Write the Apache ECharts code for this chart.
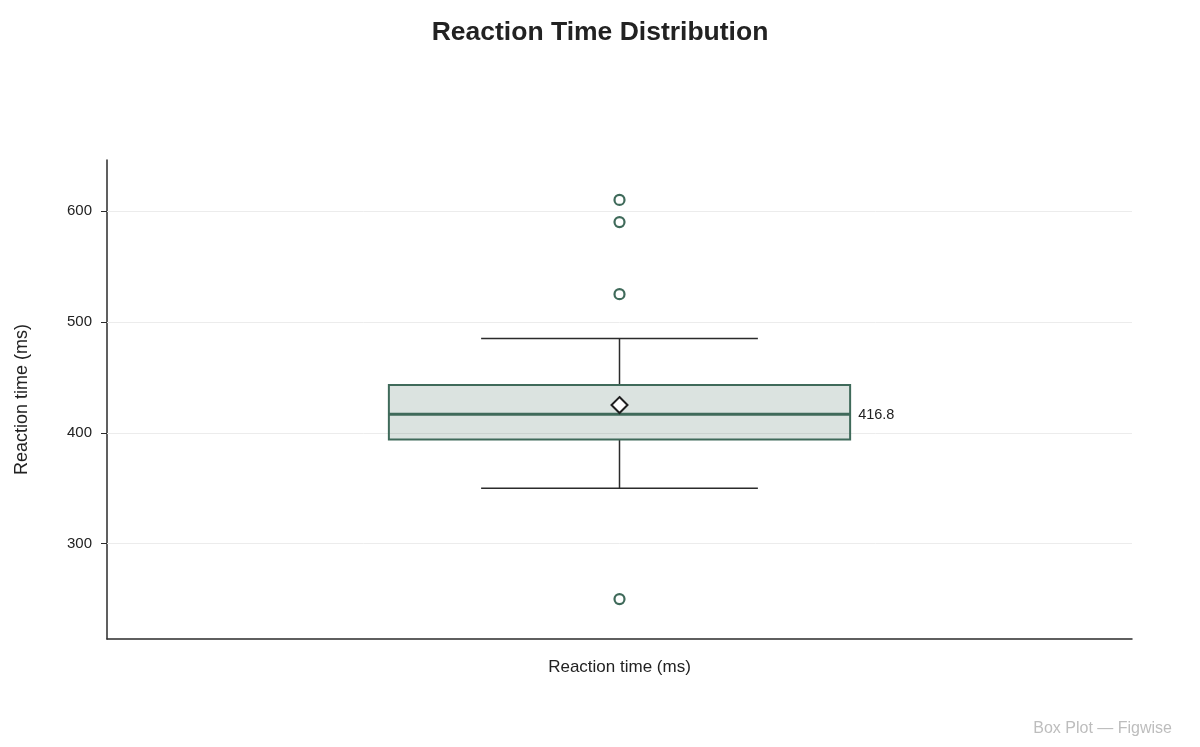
<!DOCTYPE html>
<html>
<head>
<meta charset="utf-8">
<title>Reaction Time Distribution</title>
<script src="https://cdn.jsdelivr.net/npm/echarts@6/dist/echarts.min.js"></script>
<style>
html, body { margin: 0; padding: 0; background: #fff; }
#chart { width: 1200px; height: 747px; }
</style>
</head>
<body>
<div id="chart"></div>
<script>
// data
var categories = ['Reaction time (ms)'];
// [low whisker, Q1, median, Q3, high whisker]
var boxStats = [350, 394, 416.8, 443, 485];
var meanValue = 425;
var outliers = [250, 525, 590, 610];
var yTicks = [300, 400, 500, 600];
var yMin = 214;
var yMax = 646;

var green = '#3f6a5a';
var ink = '#2b2b2b';
var font = 'Helvetica, Arial, "Liberation Sans", sans-serif';

function getID(ID) {
    return document.getElementById(ID);
}

var myChart = echarts.init(getID('chart'), null, { renderer: 'canvas' });

function renderBox(params, api) {
    var x = api.value(0);
    var low = api.coord([x, api.value(1)]);
    var q1 = api.coord([x, api.value(2)]);
    var med = api.coord([x, api.value(3)]);
    var q3 = api.coord([x, api.value(4)]);
    var high = api.coord([x, api.value(5)]);
    var band = api.size([1, 0])[0];
    var boxW = band * 0.45;
    var capW = band * 0.27;
    var cx = q1[0];
    var lineStyle = { stroke: ink, lineWidth: 1.5, fill: null };
    return {
        type: 'group',
        children: [
            { type: 'line', shape: { x1: cx, y1: high[1], x2: cx, y2: q3[1] }, style: lineStyle },
            { type: 'line', shape: { x1: cx, y1: q1[1], x2: cx, y2: low[1] }, style: lineStyle },
            { type: 'line', shape: { x1: cx - capW / 2, y1: high[1], x2: cx + capW / 2, y2: high[1] }, style: lineStyle },
            { type: 'line', shape: { x1: cx - capW / 2, y1: low[1], x2: cx + capW / 2, y2: low[1] }, style: lineStyle },
            {
                type: 'rect',
                shape: { x: cx - boxW / 2, y: q3[1], width: boxW, height: q1[1] - q3[1] },
                style: { fill: 'rgba(63,106,90,0.19)', stroke: green, lineWidth: 2 }
            },
            {
                type: 'line',
                shape: { x1: cx - boxW / 2, y1: med[1], x2: cx + boxW / 2, y2: med[1] },
                style: { stroke: green, lineWidth: 3 }
            },
            {
                type: 'text',
                x: cx + boxW / 2 + 8,
                y: med[1] + 1,
                style: {
                    text: api.value(3).toFixed(1),
                    fill: '#222',
                    font: '14.5px ' + font,
                    verticalAlign: 'middle',
                    align: 'left'
                }
            }
        ]
    };
}

var outlierData = [];
for (var i = 0; i < outliers.length; i++) {
    outlierData.push([0, outliers[i]]);
}
var gridLines = [];
for (var j = 0; j < yTicks.length; j++) {
    gridLines.push({ yAxis: yTicks[j] });
}

var option = {
    backgroundColor: '#fff',
    animation: false,
    title: {
        text: 'Reaction Time Distribution',
        left: 'center',
        top: 14,
        textStyle: { fontSize: 26.5, fontWeight: 'bold', color: '#222', fontFamily: font }
    },
    graphic: [{
        type: 'text',
        right: 28,
        bottom: 10,
        style: { text: 'Box Plot \u2014 Figwise', fill: '#bdbdbd', font: '16px ' + font }
    }],
    grid: { left: 107, right: 68, top: 160, bottom: 108 },
    xAxis: {
        type: 'category',
        data: categories,
        name: 'Reaction time (ms)',
        nameLocation: 'middle',
        nameGap: 20,
        nameTextStyle: { fontSize: 17, color: '#222', fontFamily: font },
        axisLine: { lineStyle: { color: ink, width: 1.5 } },
        axisTick: { show: false },
        axisLabel: { show: false },
        splitLine: { show: false }
    },
    yAxis: {
        type: 'value',
        min: yMin,
        max: yMax,
        name: 'Reaction time (ms)',
        nameLocation: 'middle',
        nameGap: 76,
        nameTextStyle: { fontSize: 18, color: '#222', fontFamily: font },
        axisLine: { show: true, lineStyle: { color: ink, width: 1.5 } },
        axisTick: { show: true, length: 6, customValues: yTicks, lineStyle: { color: ink } },
        axisLabel: { customValues: yTicks, margin: 15, fontSize: 15, color: '#222', fontFamily: font },
        splitLine: { show: false }
    },
    series: [
        {
            type: 'custom',
            renderItem: renderBox,
            encode: { x: 0, y: [1, 2, 3, 4, 5] },
            data: [[0].concat(boxStats)],
            z: 3,
            markLine: {
                silent: true,
                symbol: 'none',
                label: { show: false },
                lineStyle: { color: '#ececec', width: 1, type: 'solid' },
                data: gridLines,
                z: 1
            }
        },
        {
            type: 'scatter',
            data: outlierData,
            symbol: 'circle',
            symbolSize: 10,
            itemStyle: { color: '#fff', borderColor: green, borderWidth: 2.2, opacity: 1 },
            z: 4
        },
        {
            type: 'scatter',
            data: [[0, meanValue]],
            symbol: 'diamond',
            symbolSize: [16, 16],
            itemStyle: { color: '#fff', borderColor: '#1f1f1f', borderWidth: 2, opacity: 1 },
            z: 5
        }
    ]
};
myChart.setOption(option);
</script>
</body>
</html>
